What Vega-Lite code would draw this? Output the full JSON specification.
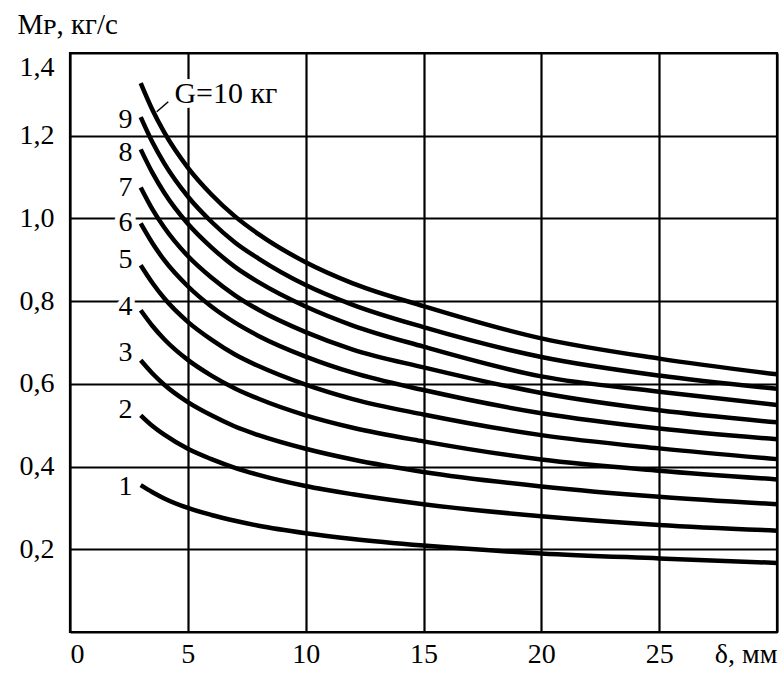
{
  "$schema": "https://vega.github.io/schema/vega-lite/v6.json",
  "autosize": "none",
  "width": 707,
  "height": 579,
  "padding": {"left": 70, "top": 53, "right": 4, "bottom": 43},
  "background": "white",
  "config": {
    "view": {"stroke": "black", "strokeWidth": 2.2},
    "font": "Liberation Serif",
    "text": {"font": "Liberation Serif"},
    "axis": {
      "domain": false,
      "ticks": false,
      "grid": true,
      "gridColor": "black",
      "gridWidth": 2.2,
      "gridOpacity": 1,
      "labelFont": "Liberation Serif",
      "labelFontSize": 28,
      "labelColor": "black",
      "labelFlush": true,
      "titleFont": "Liberation Serif",
      "titleFontSize": 29,
      "titleFontWeight": "normal",
      "titleColor": "black"
    }
  },
  "datasets": {
    "curves": [
      {"G": 10, "x": 3, "y": 1.327}, {"G": 10, "x": 3.5, "y": 1.262}, {"G": 10, "x": 4, "y": 1.208}, {"G": 10, "x": 5, "y": 1.123}, {"G": 10, "x": 6, "y": 1.058}, {"G": 10, "x": 7, "y": 1.005}, {"G": 10, "x": 8, "y": 0.962}, {"G": 10, "x": 10, "y": 0.894}, {"G": 10, "x": 12, "y": 0.843}, {"G": 10, "x": 15, "y": 0.788}, {"G": 10, "x": 20, "y": 0.71}, {"G": 10, "x": 25, "y": 0.661}, {"G": 10, "x": 30, "y": 0.623},
      {"G": 9, "x": 3, "y": 1.245}, {"G": 9, "x": 3.5, "y": 1.184}, {"G": 9, "x": 4, "y": 1.133}, {"G": 9, "x": 5, "y": 1.053}, {"G": 9, "x": 6, "y": 0.992}, {"G": 9, "x": 7, "y": 0.942}, {"G": 9, "x": 8, "y": 0.903}, {"G": 9, "x": 10, "y": 0.839}, {"G": 9, "x": 12, "y": 0.791}, {"G": 9, "x": 15, "y": 0.737}, {"G": 9, "x": 20, "y": 0.665}, {"G": 9, "x": 25, "y": 0.62}, {"G": 9, "x": 30, "y": 0.588},
      {"G": 8, "x": 3, "y": 1.167}, {"G": 8, "x": 3.5, "y": 1.11}, {"G": 8, "x": 4, "y": 1.062}, {"G": 8, "x": 5, "y": 0.987}, {"G": 8, "x": 6, "y": 0.93}, {"G": 8, "x": 7, "y": 0.883}, {"G": 8, "x": 8, "y": 0.846}, {"G": 8, "x": 10, "y": 0.787}, {"G": 8, "x": 12, "y": 0.741}, {"G": 8, "x": 15, "y": 0.69}, {"G": 8, "x": 20, "y": 0.618}, {"G": 8, "x": 25, "y": 0.581}, {"G": 8, "x": 30, "y": 0.549},
      {"G": 7, "x": 3, "y": 1.075}, {"G": 7, "x": 3.5, "y": 1.022}, {"G": 7, "x": 4, "y": 0.978}, {"G": 7, "x": 5, "y": 0.909}, {"G": 7, "x": 6, "y": 0.857}, {"G": 7, "x": 7, "y": 0.814}, {"G": 7, "x": 8, "y": 0.779}, {"G": 7, "x": 10, "y": 0.725}, {"G": 7, "x": 12, "y": 0.683}, {"G": 7, "x": 15, "y": 0.64}, {"G": 7, "x": 20, "y": 0.578}, {"G": 7, "x": 25, "y": 0.536}, {"G": 7, "x": 30, "y": 0.507},
      {"G": 6, "x": 3, "y": 0.988}, {"G": 6, "x": 3.5, "y": 0.94}, {"G": 6, "x": 4, "y": 0.899}, {"G": 6, "x": 5, "y": 0.836}, {"G": 6, "x": 6, "y": 0.787}, {"G": 6, "x": 7, "y": 0.748}, {"G": 6, "x": 8, "y": 0.716}, {"G": 6, "x": 10, "y": 0.666}, {"G": 6, "x": 12, "y": 0.627}, {"G": 6, "x": 15, "y": 0.585}, {"G": 6, "x": 20, "y": 0.529}, {"G": 6, "x": 25, "y": 0.492}, {"G": 6, "x": 30, "y": 0.466},
      {"G": 5, "x": 3, "y": 0.887}, {"G": 5, "x": 3.5, "y": 0.844}, {"G": 5, "x": 4, "y": 0.807}, {"G": 5, "x": 5, "y": 0.75}, {"G": 5, "x": 6, "y": 0.707}, {"G": 5, "x": 7, "y": 0.671}, {"G": 5, "x": 8, "y": 0.643}, {"G": 5, "x": 10, "y": 0.598}, {"G": 5, "x": 12, "y": 0.563}, {"G": 5, "x": 15, "y": 0.526}, {"G": 5, "x": 20, "y": 0.476}, {"G": 5, "x": 25, "y": 0.444}, {"G": 5, "x": 30, "y": 0.418},
      {"G": 4, "x": 3, "y": 0.778}, {"G": 4, "x": 3.5, "y": 0.74}, {"G": 4, "x": 4, "y": 0.708}, {"G": 4, "x": 5, "y": 0.658}, {"G": 4, "x": 6, "y": 0.62}, {"G": 4, "x": 7, "y": 0.589}, {"G": 4, "x": 8, "y": 0.564}, {"G": 4, "x": 10, "y": 0.524}, {"G": 4, "x": 12, "y": 0.494}, {"G": 4, "x": 15, "y": 0.461}, {"G": 4, "x": 20, "y": 0.417}, {"G": 4, "x": 25, "y": 0.39}, {"G": 4, "x": 30, "y": 0.369},
      {"G": 3, "x": 3, "y": 0.657}, {"G": 3, "x": 3.5, "y": 0.625}, {"G": 3, "x": 4, "y": 0.598}, {"G": 3, "x": 5, "y": 0.556}, {"G": 3, "x": 6, "y": 0.524}, {"G": 3, "x": 7, "y": 0.497}, {"G": 3, "x": 8, "y": 0.476}, {"G": 3, "x": 10, "y": 0.443}, {"G": 3, "x": 12, "y": 0.417}, {"G": 3, "x": 15, "y": 0.387}, {"G": 3, "x": 20, "y": 0.352}, {"G": 3, "x": 25, "y": 0.327}, {"G": 3, "x": 30, "y": 0.309},
      {"G": 2, "x": 3, "y": 0.524}, {"G": 2, "x": 3.5, "y": 0.498}, {"G": 2, "x": 4, "y": 0.477}, {"G": 2, "x": 5, "y": 0.443}, {"G": 2, "x": 6, "y": 0.418}, {"G": 2, "x": 7, "y": 0.397}, {"G": 2, "x": 8, "y": 0.38}, {"G": 2, "x": 10, "y": 0.353}, {"G": 2, "x": 12, "y": 0.333}, {"G": 2, "x": 15, "y": 0.309}, {"G": 2, "x": 20, "y": 0.28}, {"G": 2, "x": 25, "y": 0.259}, {"G": 2, "x": 30, "y": 0.245},
      {"G": 1, "x": 3, "y": 0.355}, {"G": 1, "x": 3.5, "y": 0.338}, {"G": 1, "x": 4, "y": 0.323}, {"G": 1, "x": 5, "y": 0.3}, {"G": 1, "x": 6, "y": 0.283}, {"G": 1, "x": 7, "y": 0.269}, {"G": 1, "x": 8, "y": 0.257}, {"G": 1, "x": 10, "y": 0.239}, {"G": 1, "x": 12, "y": 0.225}, {"G": 1, "x": 15, "y": 0.209}, {"G": 1, "x": 20, "y": 0.19}, {"G": 1, "x": 25, "y": 0.178}, {"G": 1, "x": 30, "y": 0.167}
    ],
    "numlabels": [
      {"t": "9", "x": 2.35, "y": 1.237},
      {"t": "8", "x": 2.35, "y": 1.157},
      {"t": "7", "x": 2.35, "y": 1.073},
      {"t": "6", "x": 2.35, "y": 0.99},
      {"t": "5", "x": 2.35, "y": 0.899},
      {"t": "4", "x": 2.35, "y": 0.785},
      {"t": "3", "x": 2.35, "y": 0.674},
      {"t": "2", "x": 2.35, "y": 0.536},
      {"t": "1", "x": 2.35, "y": 0.35}
    ],
    "glabel": [
      {"t": "G=10 кг", "x": 4.43, "y": 1.301}
    ],
    "leader": [
      {"x": 3.68, "y": 1.258, "x2": 4.17, "y2": 1.282}
    ]
  },
  "layer": [
    {
      "data": {"name": "curves"},
      "mark": {"type": "line", "interpolate": "monotone", "stroke": "black", "strokeWidth": 4.5, "strokeCap": "butt"},
      "encoding": {
        "x": {
          "field": "x", "type": "quantitative",
          "scale": {"domain": [0, 30], "nice": false, "zero": false},
          "axis": {
            "values": [0, 5, 10, 15, 20, 25, 30],
            "labelExpr": "datum.value == 30 ? '' : datum.label",
            "labelPadding": 8,
            "title": "δ, мм",
            "titleFontSize": 28,
            "titleAnchor": "end",
            "titleAlign": "right",
            "titleBaseline": "alphabetic",
            "titleX": 707,
            "titleY": 30
          }
        },
        "y": {
          "field": "y", "type": "quantitative",
          "scale": {"domain": [0, 1.4], "nice": false, "zero": false},
          "axis": {
            "values": [0, 0.2, 0.4, 0.6, 0.8, 1.0, 1.2, 1.4],
            "labelExpr": "datum.value == 0 ? '' : replace(format(datum.value, '.1f'), '.', ',')",
            "labelPadding": 16,
            "title": "Mᴘ, кг/с",
            "titleAngle": 0,
            "titleAnchor": "end",
            "titleAlign": "left",
            "titleBaseline": "alphabetic",
            "titleX": -53,
            "titleY": -20
          }
        },
        "detail": {"field": "G", "type": "nominal"}
      }
    },
    {
      "data": {"name": "numlabels"},
      "mark": {"type": "text", "fontSize": 28, "align": "center", "baseline": "middle", "fill": "white", "stroke": "white", "strokeWidth": 10},
      "encoding": {
        "x": {"field": "x", "type": "quantitative"},
        "y": {"field": "y", "type": "quantitative"},
        "text": {"field": "t"}
      }
    },
    {
      "data": {"name": "numlabels"},
      "mark": {"type": "text", "fontSize": 28, "align": "center", "baseline": "middle", "fill": "black"},
      "encoding": {
        "x": {"field": "x", "type": "quantitative"},
        "y": {"field": "y", "type": "quantitative"},
        "text": {"field": "t"}
      }
    },
    {
      "data": {"name": "glabel"},
      "mark": {"type": "text", "fontSize": 30, "align": "left", "baseline": "middle", "fill": "white", "stroke": "white", "strokeWidth": 10},
      "encoding": {
        "x": {"field": "x", "type": "quantitative"},
        "y": {"field": "y", "type": "quantitative"},
        "text": {"field": "t"}
      }
    },
    {
      "data": {"name": "glabel"},
      "mark": {"type": "text", "fontSize": 30, "align": "left", "baseline": "middle", "fill": "black"},
      "encoding": {
        "x": {"field": "x", "type": "quantitative"},
        "y": {"field": "y", "type": "quantitative"},
        "text": {"field": "t"}
      }
    },
    {
      "data": {"name": "leader"},
      "mark": {"type": "rule", "stroke": "black", "strokeWidth": 1.5},
      "encoding": {
        "x": {"field": "x", "type": "quantitative"},
        "y": {"field": "y", "type": "quantitative"},
        "x2": {"field": "x2"},
        "y2": {"field": "y2"}
      }
    }
  ]
}
